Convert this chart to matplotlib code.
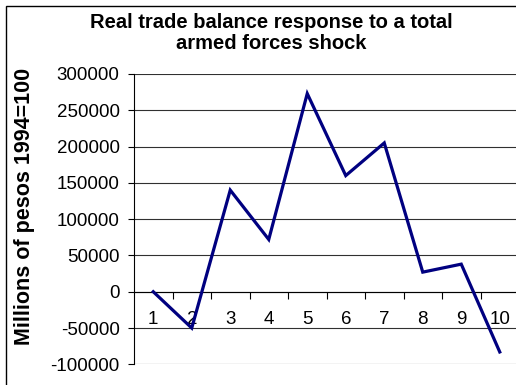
import numpy as np
import matplotlib
matplotlib.use("Agg")
import matplotlib.pyplot as plt
from matplotlib.patches import Rectangle

# --- Data ---
periods = [1, 2, 3, 4, 5, 6, 7, 8, 9, 10]
trade_balance = [0, -50000, 140000, 72000, 273000, 160000, 205000, 27000, 38000, -83000]
yticks = [-100000, -50000, 0, 50000, 100000, 150000, 200000, 250000, 300000]

title = "Real trade balance response to a total\narmed forces shock"
ylabel = "Millions of pesos 1994=100"

plt.rcParams.update({
    "font.family": ["Liberation Sans", "DejaVu Sans"],
    "font.size": 13.5,
})

W, H = 516, 385
fig = plt.figure(figsize=(W / 100, H / 100), dpi=100)
fig.patch.set_facecolor("white")

# plot area (pixel geometry)
left, right, top, bottom = 134, 519, 74, 364.3
ax = fig.add_axes([left / W, 1 - bottom / H, (right - left) / W, (bottom - top) / H])

# outer chart border (only top and left visible in the crop)
fig.patches.append(Rectangle((6 / W, -0.5), 2, 0.5 + 1 - 5.5 / H, transform=fig.transFigure,
                             fill=False, edgecolor="black", linewidth=1.0))

ax.plot(periods, trade_balance, color="#000080", linewidth=2.3, solid_joinstyle="miter",
        zorder=3, clip_on=False)

ax.set_xlim(0.5, 10.5)
ax.set_ylim(-100000, 300000)
ax.set_yticks(yticks)
ax.set_yticklabels([str(v) for v in yticks])
ax.yaxis.grid(True, color="#303030", linewidth=0.8)
ax.set_axisbelow(True)

for s in ["top", "right"]:
    ax.spines[s].set_visible(False)
ax.spines["left"].set_linewidth(0.8)
ax.spines["bottom"].set_position(("data", 0))
ax.spines["bottom"].set_linewidth(0.8)

ax.tick_params(axis="y", direction="out", length=4.3, width=0.8, pad=6)

# category axis: tick marks between categories, labels at the centres
ax.set_xticks([p + 0.5 for p in periods[:-1]])
ax.set_xticklabels([])
ax.set_xticks(periods, minor=True)
ax.set_xticklabels([str(p) for p in periods], minor=True)
ax.tick_params(axis="x", which="major", direction="out", length=5, width=0.8)
ax.tick_params(axis="x", which="minor", length=0, pad=14)

fig.text(25 / W, 1 - 206 / H, ylabel, rotation=90, ha="center", va="center",
         fontweight="bold", fontsize=15.5)

fig.text(271 / W, 1 - 33 / H, title, ha="center", va="center", fontweight="bold",
         fontsize=14.5, linespacing=1.1)

fig.savefig("out.png", dpi=100)
